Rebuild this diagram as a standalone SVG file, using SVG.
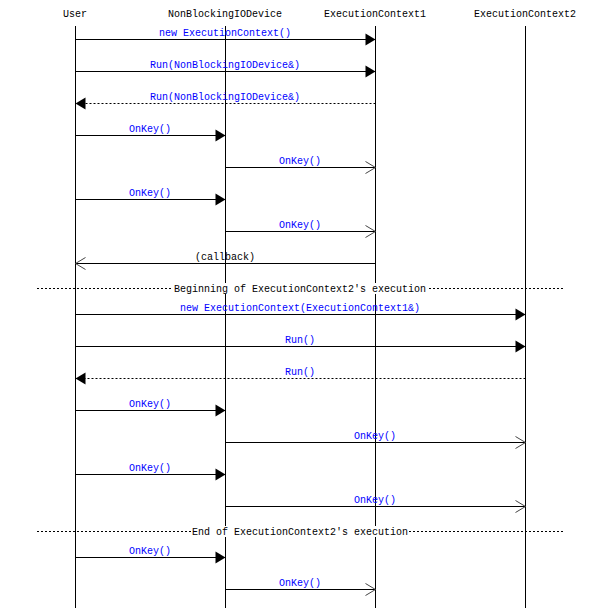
<svg xmlns="http://www.w3.org/2000/svg" width="600" height="608" viewBox="0 0 600 608">
<style>
text{font-family:"Liberation Mono","DejaVu Sans Mono",monospace;font-size:10px;text-anchor:middle}
.hdr{fill:#000}
.lbl{fill:#0000ff}
.blk{fill:#000}
.life{stroke:#000;stroke-width:1}
.msg{stroke:#000;stroke-width:1;fill:none}
.ret{stroke:#000;stroke-width:1;fill:none;stroke-dasharray:2,2}
.div{stroke:#000;stroke-width:1;stroke-dasharray:2,2}
.fill{fill:#000}
.open{stroke:#444;stroke-width:1;fill:none}
</style>
<rect width="600" height="608" fill="#fff"/>
<g id="User"><text class="hdr" x="75" y="17">User</text><line class="life" x1="75.5" y1="26" x2="75.5" y2="608"/></g>
<g id="NonBlockingIODevice"><text class="hdr" x="225" y="17">NonBlockingIODevice</text><line class="life" x1="225.5" y1="26" x2="225.5" y2="608"/></g>
<g id="ExecutionContext1"><text class="hdr" x="375" y="17">ExecutionContext1</text><line class="life" x1="375.5" y1="26" x2="375.5" y2="608"/></g>
<g id="ExecutionContext2"><text class="hdr" x="525" y="17">ExecutionContext2</text><line class="life" x1="525.5" y1="26" x2="525.5" y2="608"/></g>
<g id="connectors">
<line class="msg" x1="75.5" y1="39.5" x2="375.5" y2="39.5"/><polygon class="fill" points="375.5,39.5 365.5,33.5 365.5,45.5"/><text class="lbl" x="225" y="36">new ExecutionContext()</text>
<line class="msg" x1="75.5" y1="71.5" x2="375.5" y2="71.5"/><polygon class="fill" points="375.5,71.5 365.5,65.5 365.5,77.5"/><text class="lbl" x="225" y="68">Run(NonBlockingIODevice&amp;)</text>
<line class="ret" x1="375.5" y1="103.5" x2="75.5" y2="103.5"/><polygon class="fill" points="75.5,103.5 85.5,97.5 85.5,109.5"/><text class="lbl" x="225" y="100">Run(NonBlockingIODevice&amp;)</text>
<line class="msg" x1="75.5" y1="135.5" x2="225.5" y2="135.5"/><polygon class="fill" points="225.5,135.5 215.5,129.5 215.5,141.5"/><text class="lbl" x="150" y="132">OnKey()</text>
<line class="msg" x1="225.5" y1="167.5" x2="375.5" y2="167.5"/><polyline class="open" points="365.5,161.5 375.5,167.5 365.5,173.5"/><text class="lbl" x="300" y="164">OnKey()</text>
<line class="msg" x1="75.5" y1="199.5" x2="225.5" y2="199.5"/><polygon class="fill" points="225.5,199.5 215.5,193.5 215.5,205.5"/><text class="lbl" x="150" y="196">OnKey()</text>
<line class="msg" x1="225.5" y1="231.5" x2="375.5" y2="231.5"/><polyline class="open" points="365.5,225.5 375.5,231.5 365.5,237.5"/><text class="lbl" x="300" y="228">OnKey()</text>
<line class="msg" x1="375.5" y1="263.5" x2="75.5" y2="263.5"/><polyline class="open" points="85.5,257.5 75.5,263.5 85.5,269.5"/><text class="blk" x="225" y="260">(callback)</text>
<line class="div" x1="37" y1="288.5" x2="563" y2="288.5"/><rect x="172" y="283" width="256" height="11" fill="#fff"/><text class="blk" x="300" y="292">Beginning of ExecutionContext2's execution</text>
<line class="msg" x1="75.5" y1="314.5" x2="525.5" y2="314.5"/><polygon class="fill" points="525.5,314.5 515.5,308.5 515.5,320.5"/><text class="lbl" x="300" y="311">new ExecutionContext(ExecutionContext1&amp;)</text>
<line class="msg" x1="75.5" y1="346.5" x2="525.5" y2="346.5"/><polygon class="fill" points="525.5,346.5 515.5,340.5 515.5,352.5"/><text class="lbl" x="300" y="343">Run()</text>
<line class="ret" x1="525.5" y1="378.5" x2="75.5" y2="378.5"/><polygon class="fill" points="75.5,378.5 85.5,372.5 85.5,384.5"/><text class="lbl" x="300" y="375">Run()</text>
<line class="msg" x1="75.5" y1="410.5" x2="225.5" y2="410.5"/><polygon class="fill" points="225.5,410.5 215.5,404.5 215.5,416.5"/><text class="lbl" x="150" y="407">OnKey()</text>
<line class="msg" x1="225.5" y1="442.5" x2="525.5" y2="442.5"/><polyline class="open" points="515.5,436.5 525.5,442.5 515.5,448.5"/><text class="lbl" x="375" y="439">OnKey()</text>
<line class="msg" x1="75.5" y1="474.5" x2="225.5" y2="474.5"/><polygon class="fill" points="225.5,474.5 215.5,468.5 215.5,480.5"/><text class="lbl" x="150" y="471">OnKey()</text>
<line class="msg" x1="225.5" y1="506.5" x2="525.5" y2="506.5"/><polyline class="open" points="515.5,500.5 525.5,506.5 515.5,512.5"/><text class="lbl" x="375" y="503">OnKey()</text>
<line class="div" x1="37" y1="531.5" x2="563" y2="531.5"/><rect x="191" y="526" width="218" height="11" fill="#fff"/><text class="blk" x="300" y="535">End of ExecutionContext2's execution</text>
<line class="msg" x1="75.5" y1="557.5" x2="225.5" y2="557.5"/><polygon class="fill" points="225.5,557.5 215.5,551.5 215.5,563.5"/><text class="lbl" x="150" y="554">OnKey()</text>
<line class="msg" x1="225.5" y1="589.5" x2="375.5" y2="589.5"/><polyline class="open" points="365.5,583.5 375.5,589.5 365.5,595.5"/><text class="lbl" x="300" y="586">OnKey()</text>
</g>
</svg>
